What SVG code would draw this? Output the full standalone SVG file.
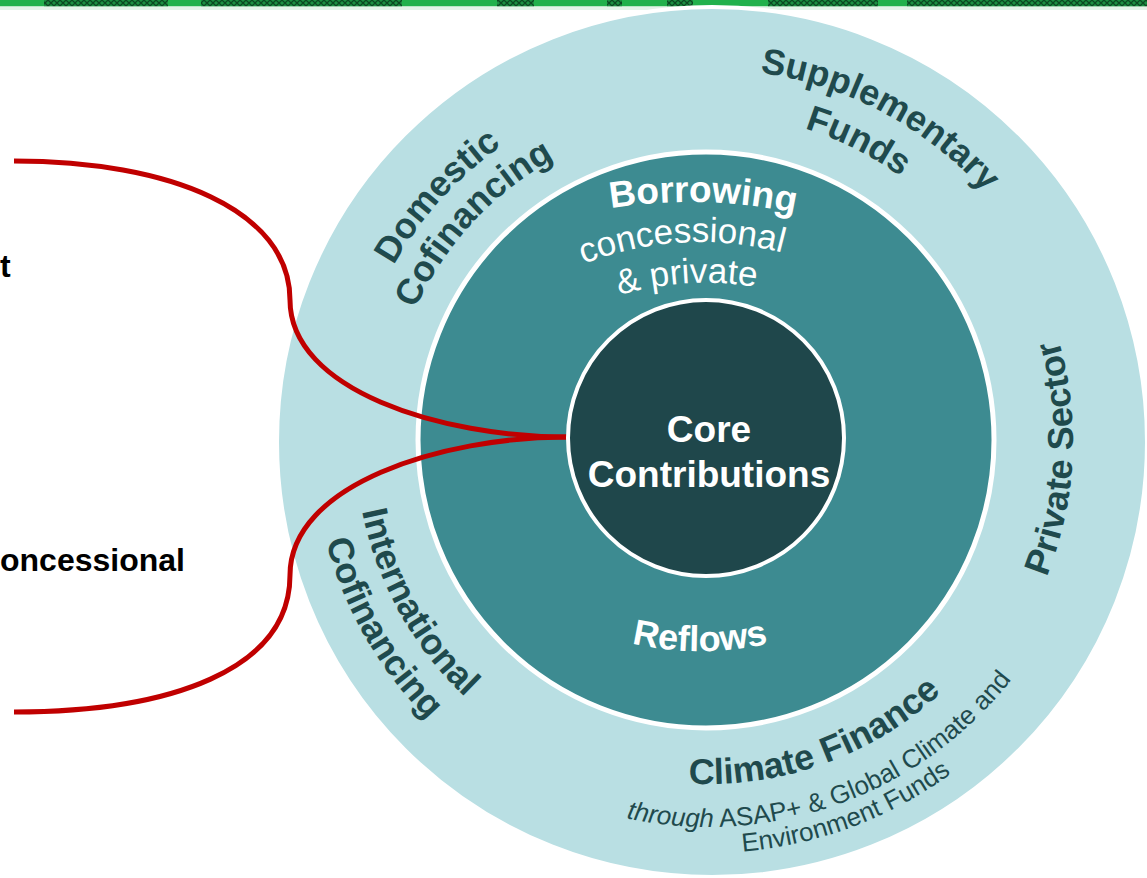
<svg xmlns="http://www.w3.org/2000/svg" width="1147" height="878" viewBox="0 0 1147 878">
<defs>
<pattern id="hatch" width="6" height="6" patternUnits="userSpaceOnUse"><rect width="6" height="6" fill="#1c8f42"/><path d="M0,6 L6,0 M0,0 L6,6" stroke="#0b4a22" stroke-width="1.3"/></pattern>
<path id="pDom" d="M348,441 A360,360 0 1 1 1068,441 A360,360 0 1 1 348,441"/>
<path id="pDomC" d="M387,441 A321,321 0 1 1 1029,441 A321,321 0 1 1 387,441"/>
<path id="pSup" d="M336,441 A372,372 0 1 1 1080,441 A372,372 0 1 1 336,441"/>
<path id="pFun" d="M381,441 A327,327 0 1 1 1035,441 A327,327 0 1 1 381,441"/>
<path id="pInt" d="M355,441 A353,353 0 1 0 1061,441 A353,353 0 1 0 355,441"/>
<path id="pIntC" d="M313,441 A395,395 0 1 0 1103,441 A395,395 0 1 0 313,441"/>
<path id="pPriv" d="M343,441 A365,365 0 1 0 1073,441 A365,365 0 1 0 343,441"/>
<path id="pClim" d="M365,441 A343,343 0 1 0 1051,441 A343,343 0 1 0 365,441"/>
<path id="pThr" d="M322,441 A386,386 0 1 0 1094,441 A386,386 0 1 0 322,441"/>
<path id="pEnv" d="M296,441 A412,412 0 1 0 1120,441 A412,412 0 1 0 296,441"/>
<path id="pBor" d="M540,225 A500,500 0 0 1 840,225"/>
<path id="pCon" d="M540,284.9 A320,320 0 0 1 860,284.9"/>
<path id="pPri" d="M545,329 A300,300 0 0 1 865,329"/>
<path id="pRef" d="M540,605 A300,300 0 0 0 860,605"/>
</defs>
<style>
.lbl{font-family:"Liberation Sans",Arial,sans-serif;font-weight:bold;fill:#1f4a4d;font-size:36px}
.sub{font-family:"Liberation Sans",Arial,sans-serif;fill:#1f4a4d;font-size:26px}
.wb{font-family:"Liberation Sans",Arial,sans-serif;font-weight:bold;fill:#ffffff}
.wr{font-family:"Liberation Sans",Arial,sans-serif;fill:#ffffff;font-size:35px}
.side{font-family:"Liberation Sans",Arial,sans-serif;font-weight:bold;fill:#000000;font-size:32px}
.conn{fill:none;stroke:#c00000;stroke-width:5;stroke-linecap:butt}
</style>
<rect width="1147" height="878" fill="#ffffff"/>
<g id="band">
<rect x="0" y="0" width="1147" height="6.5" fill="#22b14c"/>
<rect x="44" y="0" width="124" height="6.5" fill="url(#hatch)"/>
<rect x="201" y="0" width="201" height="6.5" fill="url(#hatch)"/>
<rect x="497" y="0" width="37" height="6.5" fill="url(#hatch)"/>
<rect x="607" y="0" width="15" height="6.5" fill="url(#hatch)"/>
<rect x="667" y="0" width="26" height="6.5" fill="url(#hatch)"/>
<rect x="768" y="0" width="110" height="6.5" fill="url(#hatch)"/>
<rect x="907" y="0" width="240" height="6.5" fill="url(#hatch)"/>
<rect x="0" y="6.5" width="1147" height="3.5" fill="#e3f3e8"/>
</g>
<g id="side-labels">
<text class="side" x="0" y="277">t</text>
<text class="side" x="0" y="571">oncessional</text>
</g>
<g id="outer-ring">
<circle cx="712" cy="442" r="435" fill="#b9dfe3" stroke="#ffffff" stroke-width="4"/>
</g>
<g id="middle-ring">
<circle cx="706" cy="440" r="288" fill="#3d8b91" stroke="#ffffff" stroke-width="5"/>
</g>
<g id="connectors">
<path class="conn" d="M14,161 C170,161 290,210 290,300 C290,390 440,437 568,437"/>
<path class="conn" d="M14,712 C170,712 290,670 290,575 C290,485 440,437 568,437"/>
</g>
<g id="core">
<circle cx="706" cy="438" r="138" fill="#1f474b" stroke="#ffffff" stroke-width="4"/>
<text class="wb" font-size="37" x="709" y="442" text-anchor="middle">Core</text>
<text class="wb" font-size="37" x="709" y="487" text-anchor="middle">Contributions</text>
</g>
<g id="domestic">
<text class="lbl"><textPath href="#pDom" startOffset="11.7%" text-anchor="middle">Domestic</textPath></text>
<text class="lbl"><textPath href="#pDomC" startOffset="11.9%" text-anchor="middle">Cofinancing</textPath></text>
</g>
<g id="supplementary">
<text class="lbl"><textPath href="#pSup" startOffset="32.8%" text-anchor="middle">Supplementary</textPath></text>
<text class="lbl"><textPath href="#pFun" startOffset="32.4%" text-anchor="middle">Funds</textPath></text>
</g>
<g id="private">
<text class="lbl"><textPath href="#pPriv" startOffset="49.2%" text-anchor="middle">Private Sector</textPath></text>
</g>
<g id="international">
<text class="lbl"><textPath href="#pInt" startOffset="8.06%" text-anchor="middle">International</textPath></text>
<text class="lbl"><textPath href="#pIntC" startOffset="8.28%" text-anchor="middle">Cofinancing</textPath></text>
</g>
<g id="climate">
<text class="lbl"><textPath href="#pClim" startOffset="30.5%" text-anchor="middle">Climate Finance</textPath></text>
<text class="sub"><textPath href="#pThr" startOffset="30.5%" text-anchor="middle"><tspan font-style="italic">through</tspan> ASAP+ &amp; Global Climate and</textPath></text>
<text class="sub"><textPath href="#pEnv" startOffset="30.7%" text-anchor="middle">Environment Funds</textPath></text>
</g>
<g id="borrowing">
<text class="wb" font-size="37"><textPath href="#pBor" startOffset="54.3%" text-anchor="middle">Borrowing</textPath></text>
<text class="wr"><textPath href="#pCon" startOffset="44.6%" text-anchor="middle">concessional</textPath></text>
<text class="wr"><textPath href="#pPri" startOffset="44.7%" text-anchor="middle">&amp; private</textPath></text>
</g>
<g id="reflows">
<text class="wb" font-size="36"><textPath href="#pRef" startOffset="50%" text-anchor="middle">Reflows</textPath></text>
</g>
</svg>
